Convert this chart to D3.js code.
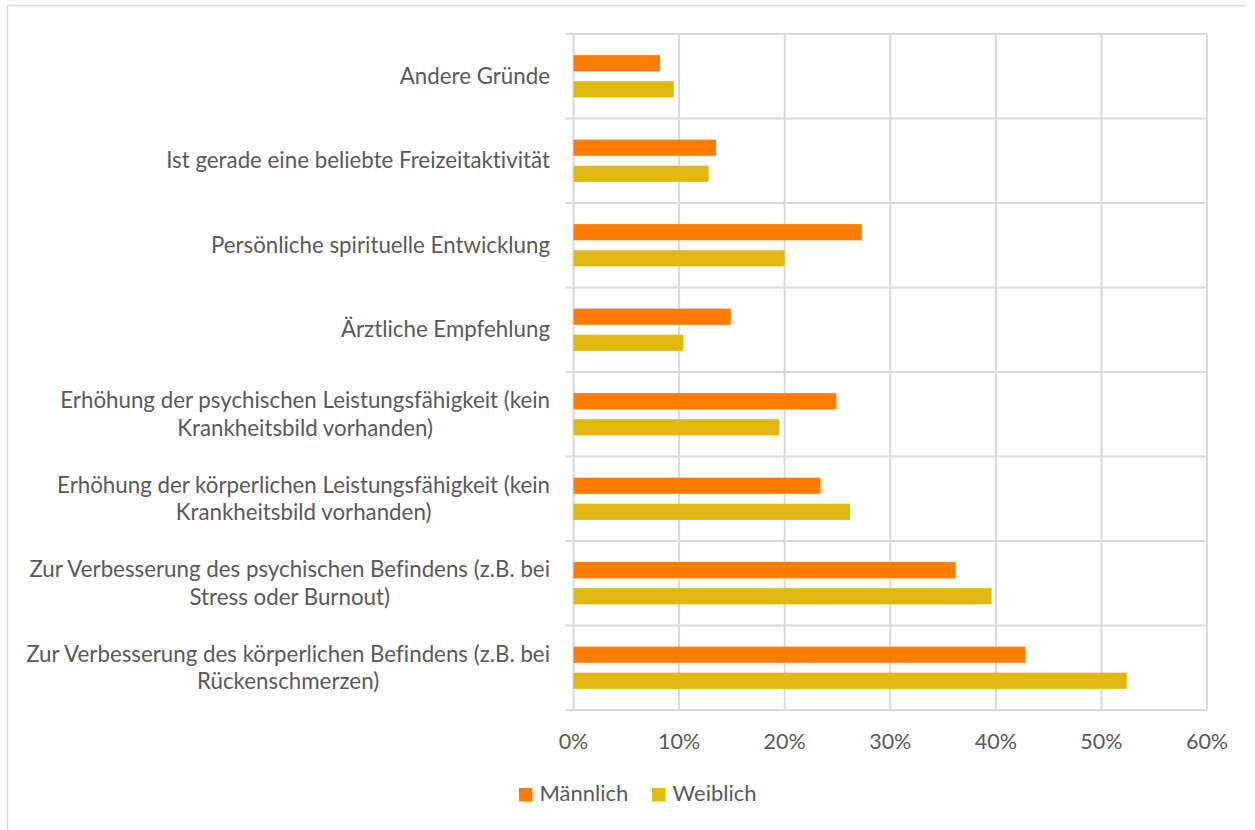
<!DOCTYPE html>
<html>
<head>
<meta charset="utf-8">
<script src="https://cdn.jsdelivr.net/npm/d3@7"></script>
<style>
  html, body { margin: 0; padding: 0; background: #fff; }
  svg text { font-family: Lato, "Open Sans", sans-serif; fill: #595959; font-variant-ligatures: none; }
</style>
</head>
<body>
<svg id="chart" width="1255" height="830"></svg>
<script>
// Reasons, listed top to bottom
const categories = [
  "Andere Gründe",
  "Ist gerade eine beliebte Freizeitaktivität",
  "Persönliche spirituelle Entwicklung",
  "Ärztliche Empfehlung",
  "Erhöhung der psychischen Leistungsfähigkeit (kein|Krankheitsbild vorhanden)",
  "Erhöhung der körperlichen Leistungsfähigkeit (kein|Krankheitsbild vorhanden)",
  "Zur Verbesserung des psychischen Befindens (z.B. bei|Stress oder Burnout)",
  "Zur Verbesserung des körperlichen Befindens (z.B. bei|Rückenschmerzen)"
];
const series = ["Männlich", "Weiblich"];
const maennlich = [8.2, 13.5, 27.3, 14.9, 24.9, 23.4, 36.2, 42.8];
const weiblich  = [9.5, 12.8, 20.0, 10.4, 19.5, 26.2, 39.6, 52.4];
const xTicks = [0, 10, 20, 30, 40, 50, 60];
const colors = ["#FF7C00", "#E1B811"];

const svg = d3.select("#chart");

// chart frame
svg.append("line").attr("x1", 7).attr("x2", 1245).attr("y1", 5.5).attr("y2", 5.5)
  .attr("stroke", "#d9d9d9").attr("stroke-width", 1.5);
svg.append("line").attr("x1", 7.5).attr("x2", 7.5).attr("y1", 5).attr("y2", 830)
  .attr("stroke", "#d9d9d9").attr("stroke-width", 1.5);

const plot = { left: 573.5, right: 1207, top: 34, bottom: 710 };

const x = d3.scaleLinear().domain([0, 60]).range([plot.left, plot.right]);
const y = d3.scaleBand().domain(d3.range(categories.length)).range([plot.top, plot.bottom]);
// two bars per category, with a small gap between them
const inner = d3.scaleBand().domain([0, 1])
  .range([y.bandwidth() * 0.25, y.bandwidth() * 0.75]).paddingInner(0.38);

const g = svg.append("g");

// vertical gridlines
g.selectAll("line.vgrid").data(xTicks).join("line")
  .attr("class", "vgrid")
  .attr("x1", d => x(d)).attr("x2", d => x(d))
  .attr("y1", plot.top).attr("y2", plot.bottom)
  .attr("stroke", "#d9d9d9").attr("stroke-width", 2);

// horizontal category separators (with outward tick)
const seps = d3.range(categories.length + 1).map(i => plot.top + i * y.step());
g.selectAll("line.hgrid").data(seps).join("line")
  .attr("class", "hgrid")
  .attr("x1", plot.left - 8).attr("x2", plot.right)
  .attr("y1", d => d).attr("y2", d => d)
  .attr("stroke", "#d9d9d9").attr("stroke-width", 2);

// bars
const rows = categories.map((c, i) => ({ i, vals: [maennlich[i], weiblich[i]] }));
const rowG = g.selectAll("g.row").data(rows).join("g")
  .attr("class", "row")
  .attr("transform", d => `translate(0,${y(d.i)})`);
rowG.selectAll("rect").data(d => d.vals.map((v, s) => ({ v, s }))).join("rect")
  .attr("x", x(0))
  .attr("y", d => inner(d.s))
  .attr("width", d => x(d.v) - x(0))
  .attr("height", inner.bandwidth())
  .attr("fill", d => colors[d.s]);

// x axis tick labels
g.selectAll("text.xt").data(xTicks).join("text")
  .attr("class", "xt")
  .attr("x", d => x(d)).attr("y", 749)
  .attr("text-anchor", "middle")
  .attr("font-size", 21.5)
  .text(d => d + "%");

// category labels: multi-line blocks, centred lines, block right-aligned
const labelRight = 550;
const lineH = 27.5;
const labelSize = 22.3;
categories.forEach((c, i) => {
  const lines = c.split("|");
  const t = g.append("text").attr("font-size", labelSize).attr("text-anchor", "middle");
  const cy = y(i) + y.bandwidth() / 2;
  const y0 = cy - (lines.length - 1) * lineH / 2;
  const spans = lines.map((ln, k) => t.append("tspan").attr("y", y0 + k * lineH).attr("dy", "0.34em").text(ln));
  const maxW = d3.max(spans, s => s.node().getComputedTextLength());
  spans.forEach(s => s.attr("x", labelRight - maxW / 2));
});

// legend
const legend = svg.append("g");
const legX = [519, 652];
series.forEach((s, k) => {
  legend.append("rect").attr("x", legX[k]).attr("y", 788).attr("width", 13.5).attr("height", 13.5).attr("fill", colors[k]);
  legend.append("text").attr("x", legX[k] + 20.5).attr("y", 801)
    .attr("font-size", 22).text(s);
});
</script>
</body>
</html>
